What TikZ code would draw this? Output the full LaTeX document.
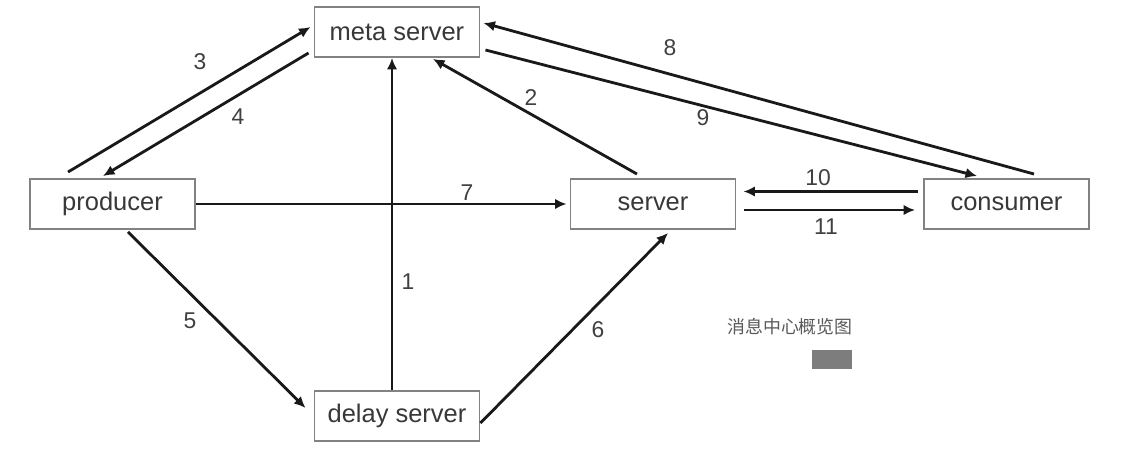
\documentclass[tikz,border=0pt]{standalone}
\usepackage{fontspec}
\usetikzlibrary{arrows.meta}
\setmainfont{Liberation Sans}
\newfontfamily\cjk{Noto Sans CJK SC}
\definecolor{boxgray}{RGB}{130,130,130}
\definecolor{markgray}{RGB}{125,125,125}
\begin{document}
\begin{tikzpicture}[
    box/.style={draw=boxgray, line width=1.1pt,
      minimum width=3.3cm, minimum height=1cm, inner sep=0pt,
      text=black!78, font=\fontsize{14.5}{16}\selectfont},
    num/.style={text=black!75, font=\fontsize{13}{15}\selectfont},
    link/.style={-{Latex[length=2.3mm,width=2.1mm]}, line width=1.6pt, black!90}]
          \useasboundingbox (0,0) rectangle (22.90,9.18);

          \draw(7.94,8.54) node[box](meta){meta server};
          \draw(2.25,5.10) node[box](producer){producer};
          \draw(13.06,5.10) node[box](server){server};
          \draw(20.13,5.10) node[box](consumer){consumer};
          \draw(7.94,0.86) node[box](delay){delay server};

          \draw(8.16,3.54) node[num](l1){1};
          \draw(10.62,7.22) node[num](l2){2};
          \draw(4.00,7.94) node[num](l3){3};
          \draw(4.76,6.84) node[num](l4){4};
          \draw(3.80,2.76) node[num](l5){5};
          \draw(11.96,2.58) node[num](l6){6};
          \draw(9.34,5.32) node[num](l7){7};
          \draw(13.40,8.22) node[num](l8){8};
          \draw(14.06,6.82) node[num](l9){9};
          \draw(16.36,5.62) node[num](l10){10};
          \draw(16.52,4.64) node[num](l11){11};

          \draw(15.80,2.64) node[text=black!65, font=\cjk\fontsize{10.2}{12}\selectfont](title){消息中心概览图};
          \fill[markgray] (16.24,1.80) rectangle (17.04,2.18);

          \draw[link] ([xshift=-0.1cm]delay.north) -- ([xshift=-0.1cm]meta.south);
          \draw[link] ([xshift=-0.32cm,yshift=0.08cm]server.north) -- ([xshift=0.72cm,yshift=-0.02cm]meta.south);
          \draw[link] ([xshift=-0.89cm,yshift=0.12cm]producer.north) -- ([xshift=-0.06cm,yshift=0.1cm]meta.west);
          \draw[link] ([xshift=-0.1cm,yshift=-0.42cm]meta.west) -- ([xshift=-0.19cm,yshift=0.04cm]producer.north);

          \draw[link] ([xshift=0.31cm,yshift=-0.04cm]producer.south) -- ([xshift=-0.16cm,yshift=0.16cm]delay.west);
          \draw[link] ([yshift=-0.14cm]delay.east) -- ([xshift=0.3cm,yshift=-0.06cm]server.south);
          \draw[link] (producer.east) -- ([xshift=-0.06cm]server.west);

          \draw[link] ([xshift=0.55cm,yshift=0.08cm]consumer.north) -- ([xshift=0.06cm,yshift=0.18cm]meta.east);
          \draw[link] ([xshift=0.1cm,yshift=-0.36cm]meta.east) -- ([xshift=-0.59cm,yshift=0.04cm]consumer.north);

          \draw[link] ([xshift=-0.1cm,yshift=0.25cm]consumer.west) -- ([xshift=0.14cm,yshift=0.25cm]server.east);
          \draw[link] ([xshift=0.16cm,yshift=-0.12cm]server.east) -- ([xshift=-0.16cm,yshift=-0.12cm]consumer.west);

      \end{tikzpicture}
\end{document}
